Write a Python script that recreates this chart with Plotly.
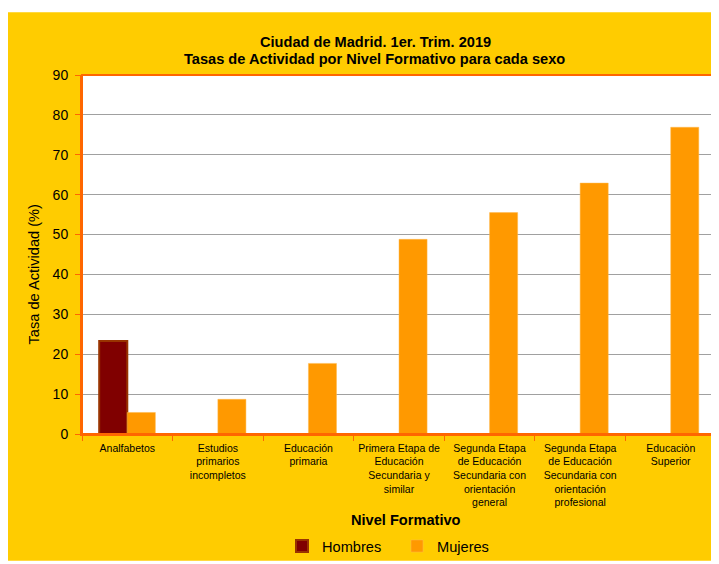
import plotly.graph_objects as go

categories = [
    "Analfabetos",
    "Estudios<br>primarios<br>incompletos",
    "Educación<br>primaria",
    "Primera Etapa de<br>Educación<br>Secundaria y<br>similar",
    "Segunda Etapa<br>de Educación<br>Secundaria con<br>orientación<br>general",
    "Segunda Etapa<br>de Educación<br>Secundaria con<br>orientación<br>profesional",
    "Educaciòn<br>Superior",
]
hombres = [23.3, None, None, None, None, None, None]
mujeres = [5.4, 8.7, 17.7, 48.8, 55.5, 62.9, 76.9]
y_ticks = [0, 10, 20, 30, 40, 50, 60, 70, 80, 90]

# the page body has an 8px margin, so the figure is drawn at (8, 8)
W, H = 711, 556
L, R, T, B = 74, 708, 67, 427
pw, ph = R - L, B - T

def px(x):
    return (x - L) / pw

def py(y):
    return (B - y) / ph

FONT = "Liberation Sans, Arial, sans-serif"
ORANGE_LINE = "#FF6600"
BIG = 14.6

fig = go.Figure()
fig.add_trace(go.Bar(
    x=categories, y=hombres, name="Hombres",
    marker=dict(color="#800000", line=dict(color="#993300", width=2)),
))
fig.add_trace(go.Bar(
    x=categories, y=mujeres, name="Mujeres",
    marker=dict(color="#FF9900", line=dict(color="#FFB84D", width=0.5)),
))

shapes = [
    dict(type="rect", xref="paper", yref="paper", x0=px(-2), x1=px(W + 2), y0=py(-2), y1=py(4),
         fillcolor="white", line=dict(width=0), layer="above"),
    dict(type="rect", xref="paper", yref="paper", x0=px(-2), x1=px(W + 2), y0=py(554), y1=py(H + 4),
         fillcolor="white", line=dict(width=0), layer="above"),
    dict(type="rect", xref="paper", yref="paper", x0=0, x1=1, y0=0, y1=1,
         line=dict(color=ORANGE_LINE, width=2), fillcolor="rgba(0,0,0,0)", layer="above"),
]

annotations = [
    dict(text="<b>Ciudad de Madrid. 1er. Trim. 2019</b>", xref="paper", yref="paper",
         x=px(367), y=py(34), showarrow=False, xanchor="center", yanchor="middle",
         font=dict(family=FONT, size=BIG, color="black")),
    dict(text="<b>Tasas de Actividad por Nivel Formativo para cada sexo</b>", xref="paper", yref="paper",
         x=px(366.5), y=py(51), showarrow=False, xanchor="center", yanchor="middle",
         font=dict(family=FONT, size=BIG, color="black")),
    dict(text="Tasa de Actividad (%)", xref="paper", yref="paper",
         x=px(26), y=py(267), textangle=-90, showarrow=False,
         font=dict(family=FONT, size=BIG, color="black"), xanchor="center", yanchor="middle"),
    dict(text="<b>Nivel Formativo</b>", xref="paper", yref="paper",
         x=px(398), y=py(513), showarrow=False,
         font=dict(family=FONT, size=BIG, color="black"), xanchor="center", yanchor="middle"),
]

fig.update_layout(
    width=W, height=H,
    margin=dict(l=L, r=W - R, t=T, b=H - B, pad=0),
    paper_bgcolor="#FFCC00",
    plot_bgcolor="white",
    font=dict(family=FONT, size=BIG, color="black"),
    barmode="group", bargap=0.38, bargroupgap=0.0,
    showlegend=True,
    legend=dict(
        orientation="h", x=px(274), y=py(538), xanchor="left", yanchor="middle",
        xref="paper", yref="paper",
        font=dict(family=FONT, size=BIG, color="black"),
        bgcolor="rgba(0,0,0,0)", itemwidth=30, entrywidth=70, tracegroupgap=0,
    ),
    xaxis=dict(
        type="category", showgrid=False, showline=True, linecolor=ORANGE_LINE, linewidth=2,
        ticks="outside", tickson="boundaries", ticklen=5, tickcolor=ORANGE_LINE, tickwidth=1,
        tickfont=dict(family=FONT, size=10.5, color="black"), tickangle=0,
        ticklabelstandoff=3, fixedrange=True,
    ),
    yaxis=dict(
        range=[0, 90], tickvals=y_ticks, showgrid=True, gridcolor="#A0A0A0", gridwidth=1,
        showline=True, linecolor=ORANGE_LINE, linewidth=2, zeroline=False,
        ticks="outside", ticklen=5, tickcolor=ORANGE_LINE, tickwidth=1,
        tickfont=dict(family=FONT, size=14, color="black"), ticklabelstandoff=4,
        fixedrange=True,
    ),
    shapes=shapes,
    annotations=annotations,
)

fig.write_html("out.html")
